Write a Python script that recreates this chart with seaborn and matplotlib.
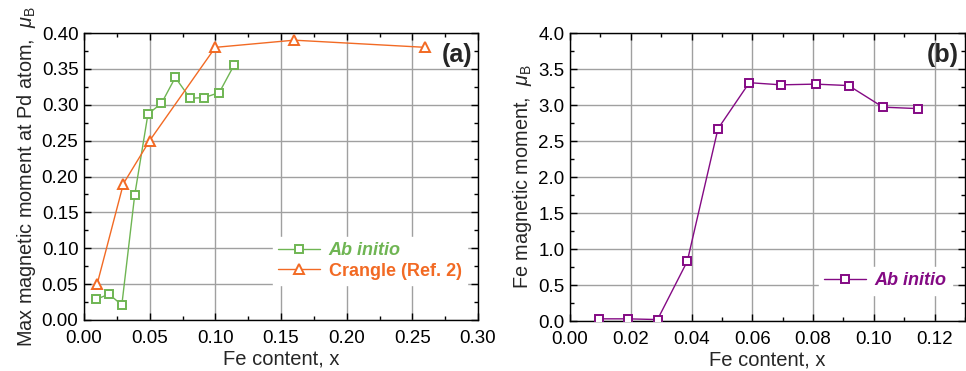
import matplotlib
matplotlib.use("Agg")
import matplotlib.pyplot as plt
import seaborn as sns
import pandas as pd
from matplotlib.ticker import MultipleLocator

# Data
x_ab = [0.0095, 0.019, 0.0288, 0.0386, 0.0487, 0.059, 0.0695, 0.0808, 0.0917, 0.103, 0.1145]
pd_ab = [0.029, 0.036, 0.021, 0.174, 0.287, 0.302, 0.338, 0.309, 0.310, 0.317, 0.356]
x_cr = [0.01, 0.03, 0.05, 0.10, 0.16, 0.26]
pd_cr = [0.05, 0.19, 0.25, 0.38, 0.39, 0.38]
fe_ab = [0.03, 0.03, 0.02, 0.83, 2.67, 3.31, 3.28, 3.29, 3.27, 2.97, 2.95]

green = "#6fb553"
orange = "#f26a24"
purple = "#840a84"

sns.set_theme(style="ticks")
plt.rcParams['font.family'] = ['Liberation Sans', 'DejaVu Sans']
plt.rcParams['mathtext.fontset'] = 'custom'
plt.rcParams['mathtext.it'] = 'Liberation Sans:italic'
plt.rcParams['mathtext.rm'] = 'Liberation Sans'

fig = plt.figure(figsize=(9.66, 3.71), dpi=100)
ax1 = fig.add_axes([84/966, 1-320/371, (478-84)/966, (320-33)/371])
ax2 = fig.add_axes([570/966, 1-321/371, (965-570)/966, (321-33)/371])

df_ab = pd.DataFrame({"x": x_ab, "y": pd_ab})
df_cr = pd.DataFrame({"x": x_cr, "y": pd_cr})
df_fe = pd.DataFrame({"x": x_ab, "y": fe_ab})

sns.lineplot(data=df_ab, x="x", y="y", ax=ax1, color=green, lw=1.0, marker="s",
             markersize=5.5, markerfacecolor="white", markeredgecolor=green, markeredgewidth=1.4,
             label="Ab initio", zorder=3)
sns.lineplot(data=df_cr, x="x", y="y", ax=ax1, color=orange, lw=1.0, marker="^",
             markersize=7.5, markerfacecolor="white", markeredgecolor=orange, markeredgewidth=1.4,
             label="Crangle (Ref. 2)", zorder=3)
sns.lineplot(data=df_fe, x="x", y="y", ax=ax2, color=purple, lw=1.0, marker="s",
             markersize=5.5, markerfacecolor="white", markeredgecolor=purple, markeredgewidth=1.4,
             label="Ab initio", zorder=3)

def style(ax, xlim, xmaj, xmin, ylim, ymaj, ymin, xfmt, yfmt):
    ax.set_xlim(*xlim)
    ax.set_ylim(*ylim)
    ax.xaxis.set_major_locator(MultipleLocator(xmaj))
    ax.xaxis.set_minor_locator(MultipleLocator(xmin))
    ax.yaxis.set_major_locator(MultipleLocator(ymaj))
    ax.yaxis.set_minor_locator(MultipleLocator(ymin))
    ax.xaxis.set_major_formatter(plt.FormatStrFormatter(xfmt))
    ax.yaxis.set_major_formatter(plt.FormatStrFormatter(yfmt))
    ax.grid(True, which="major", color="#a0a0a0", lw=1.0)
    for s in ax.spines.values():
        s.set_visible(True)
        s.set_color("black")
        s.set_linewidth(1.0)
    ax.tick_params(which="both", direction="in", top=True, right=True, colors="black", width=1)
    ax.tick_params(which="major", length=5, labelsize=13.5)
    ax.tick_params(axis="x", which="major", pad=7)
    ax.tick_params(axis="y", which="major", pad=4)
    ax.tick_params(which="minor", length=3)
    ax.set_xlabel("Fe content, x", fontsize=14.5, labelpad=2)

style(ax1, (0, 0.30), 0.05, 0.025, (0, 0.40), 0.05, 0.025, "%.2f", "%.2f")
style(ax2, (0, 0.13), 0.02, 0.01, (0, 4.0), 0.5, 0.25, "%.2f", "%.1f")

ax1.set_ylabel(r"Max magnetic moment at Pd atom,  $\mu_\mathrm{B}$", fontsize=14.3, labelpad=3)
ax2.set_ylabel(r"Fe magnetic moment,  $\mu_\mathrm{B}$", fontsize=14.3, labelpad=3)

ax1.text(0.985, 0.925, "(a)", transform=ax1.transAxes, ha="right", va="center",
         fontsize=18, fontweight="bold")
ax2.text(0.985, 0.925, "(b)", transform=ax2.transAxes, ha="right", va="center",
         fontsize=18, fontweight="bold")

leg1 = ax1.legend(loc="lower right", bbox_to_anchor=(0.995, 0.09), frameon=True, fancybox=False,
                  edgecolor="white", framealpha=1, fontsize=13, handlelength=2.3,
                  borderpad=0.3, labelspacing=0.2, handletextpad=0.5)
for t, c, st in zip(leg1.get_texts(), [green, orange], ["italic", "normal"]):
    t.set_color(c); t.set_fontweight("bold"); t.set_fontstyle(st)

leg2 = ax2.legend(loc="lower right", bbox_to_anchor=(0.99, 0.06), frameon=True, fancybox=False,
                  edgecolor="white", framealpha=1, fontsize=13, handlelength=2.3,
                  borderpad=0.3, handletextpad=0.5)
for t in leg2.get_texts():
    t.set_color(purple); t.set_fontweight("bold"); t.set_fontstyle("italic")

fig.savefig("out.png", dpi=100)
